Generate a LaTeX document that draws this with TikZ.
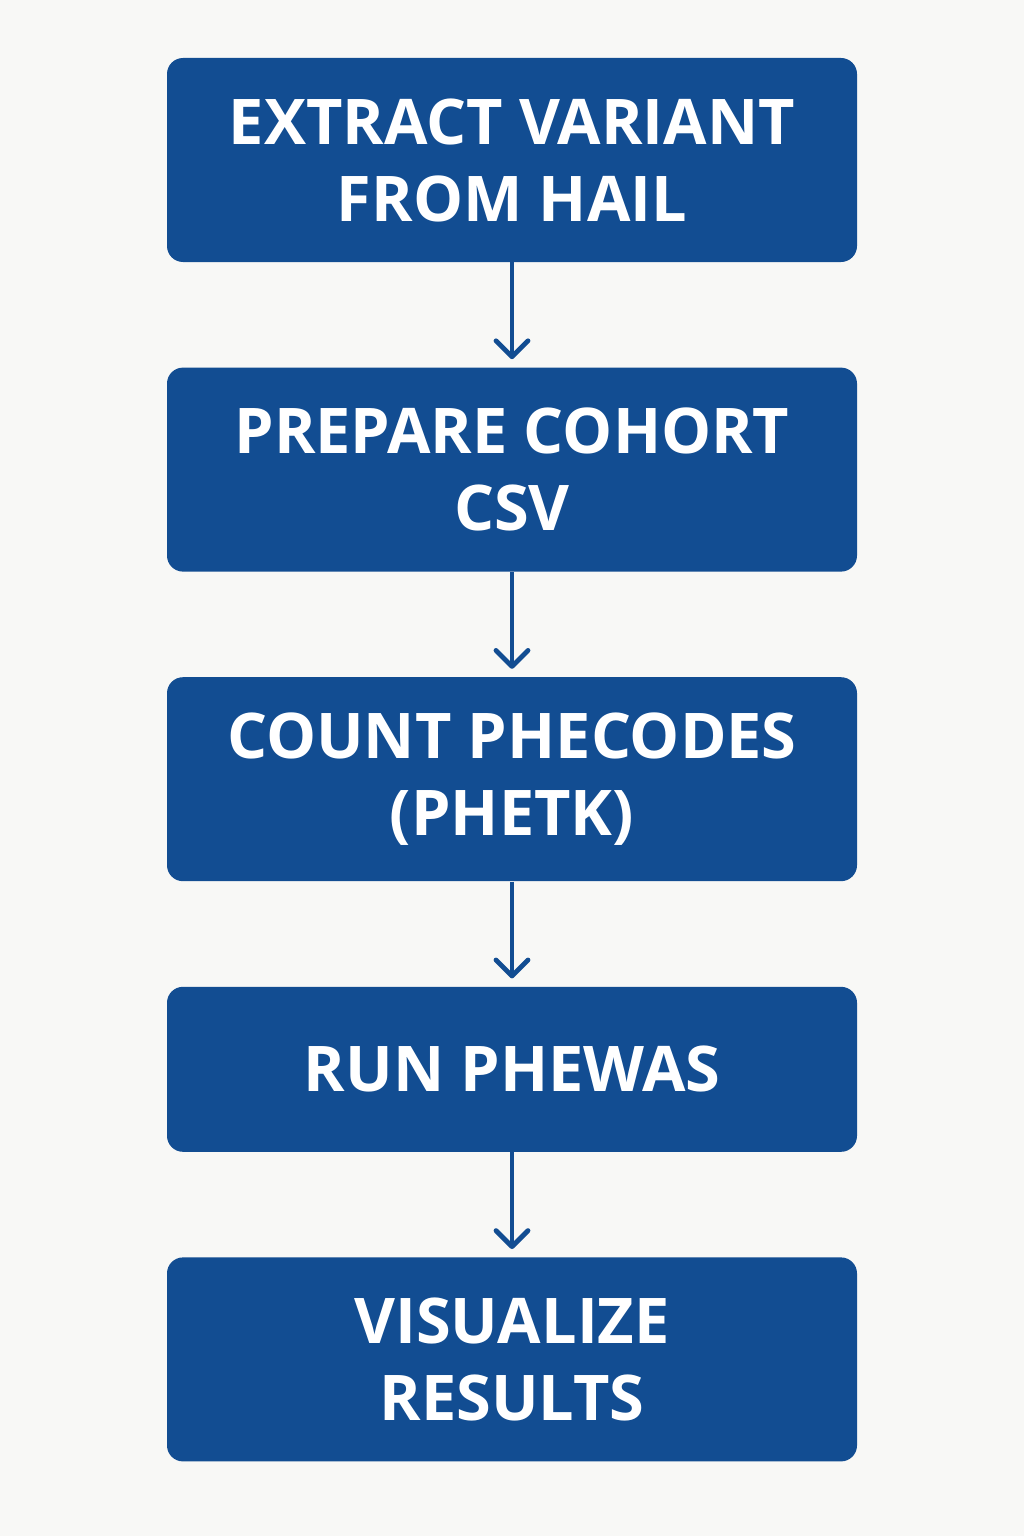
\documentclass[tikz,border=0pt]{standalone}
\usepackage{fontspec}
\setmainfont{Open Sans}
\usetikzlibrary{positioning,arrows.meta}
\definecolor{boxblue}{HTML}{124D92}
\definecolor{pagebg}{HTML}{F8F8F6}
\tikzset{
stepbox/.style={
  rectangle,
  rounded corners=8pt,
  fill=boxblue,
  text=white,
  minimum width=345pt,
  minimum height=102pt,
  align=center,
  font=\bfseries\fontsize{31.5}{38.5}\selectfont
  },
flowarrow/.style={
  draw=boxblue,
  line width=2.4pt,
  shorten >=4pt,
  -{Straight Barb[length=8pt,width=16pt,line cap=round,line join=round]}
  }
}

\begin{document}
\begin{tikzpicture}[node distance=52.4pt]
\fill[pagebg] (0,0) rectangle (512pt,-768pt);
\useasboundingbox (0,0) rectangle (512pt,-768pt);

\node[stepbox] (extract) at (256pt,-80pt) {EXTRACT VARIANT\\FROM HAIL};
\node[stepbox, below=of extract] (cohort) {PREPARE COHORT\\CSV};
\node[stepbox, below=of cohort] (phecodes) {COUNT PHECODES\\(PHETK)};
\node[stepbox, below=of phecodes, minimum height=82.5pt] (phewas) {RUN PHEWAS};
\node[stepbox, below=of phewas] (results) {VISUALIZE\\RESULTS};

% arrows between steps
\foreach \a/\b in {extract/cohort, cohort/phecodes, phecodes/phewas, phewas/results}
  \draw[flowarrow] (\a) -- (\b);
\end{tikzpicture}
\end{document}
